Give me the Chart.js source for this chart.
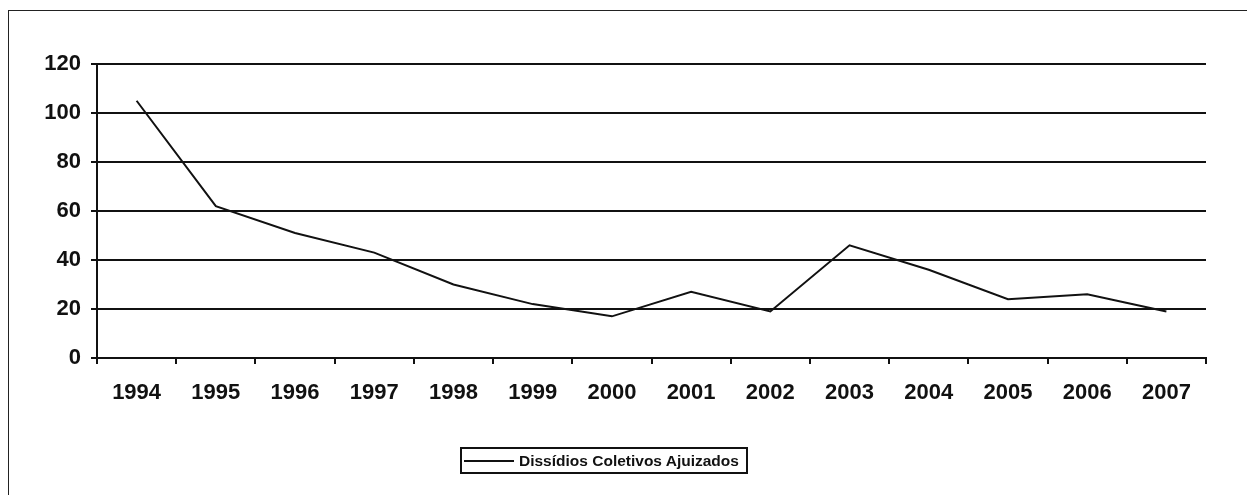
<!DOCTYPE html>
<html>
<head>
<meta charset="utf-8">
<script src="https://cdn.jsdelivr.net/npm/chart.js@4"></script>
<style>
  html, body { margin: 0; padding: 0; background: #fff; }
  #wrap { position: relative; width: 1247px; height: 495px; overflow: hidden; }
  #frame { position: absolute; left: 8px; top: 10px; width: 1240px; height: 500px; border: 1px solid #222; box-sizing: border-box; }
  #chart { position: absolute; left: 0; top: 0; }
  #legend { position: absolute; left: 460px; top: 447px; width: 288px; height: 27px; border: 2px solid #111; box-sizing: border-box;
            font: bold 15.5px "Liberation Sans", Arial, sans-serif; color: #111; display: flex; align-items: center; white-space: nowrap; }
  #legend .swatch { display: inline-block; width: 50px; height: 0; border-top: 2px solid #111; margin: 0 5px 0 2px; }
</style>
</head>
<body>
<div id="wrap">
  <div id="frame"></div>
  <canvas id="chart" width="1247" height="495"></canvas>
  <div id="legend"><span class="swatch"></span><span id="legend-text"></span></div>
</div>
<script>
const years = ["1994", "1995", "1996", "1997", "1998", "1999", "2000", "2001", "2002", "2003", "2004", "2005", "2006", "2007"];
const dissidios = [105, 62, 51, 43, 30, 22, 17, 27, 19, 46, 36, 24, 26, 19];
const seriesLabel = "Dissídios Coletivos Ajuizados";
const yTicks = [0, 20, 40, 60, 80, 100, 120];

document.getElementById("legend-text").textContent = seriesLabel;

const tickFont = { family: "'Liberation Sans', Arial, sans-serif", size: 22, weight: "bold" };

const ctx = document.getElementById("chart");
const chart = new Chart(ctx, {
    type: "line",
    data: {
        labels: years,
        datasets: [{
            label: seriesLabel,
            data: dissidios,
            borderColor: "#111",
            borderWidth: 2,
            pointRadius: 0,
            tension: 0,
            fill: false
        }]
    },
    options: {
        responsive: false,
        animation: false,
        events: [],
        layout: { padding: { left: 40, right: 41, top: 64, bottom: 87 } },
        plugins: {
            legend: { display: false },
            tooltip: { enabled: false }
        },
        scales: {
            x: {
                offset: true,
                grid: { display: true, offset: true, drawOnChartArea: false, drawTicks: true, tickLength: 6, color: "#111", lineWidth: 2 },
                border: { display: true, color: "#111", width: 2 },
                ticks: { color: "#111", font: tickFont, padding: 16, maxRotation: 0, autoSkip: false },
                afterFit: (scale) => { scale.height = 50; }
            },
            y: {
                min: 0,
                max: 120,
                afterBuildTicks: (scale) => { scale.ticks = yTicks.map(v => ({ value: v })); },
                grid: { color: "#111", lineWidth: 2, drawTicks: true, tickLength: 6 },
                border: { display: true, color: "#111", width: 2 },
                ticks: { color: "#111", font: tickFont, padding: 10 },
                afterFit: (scale) => { scale.width = 57; }
            }
        }
    }
});
</script>
</body>
</html>
